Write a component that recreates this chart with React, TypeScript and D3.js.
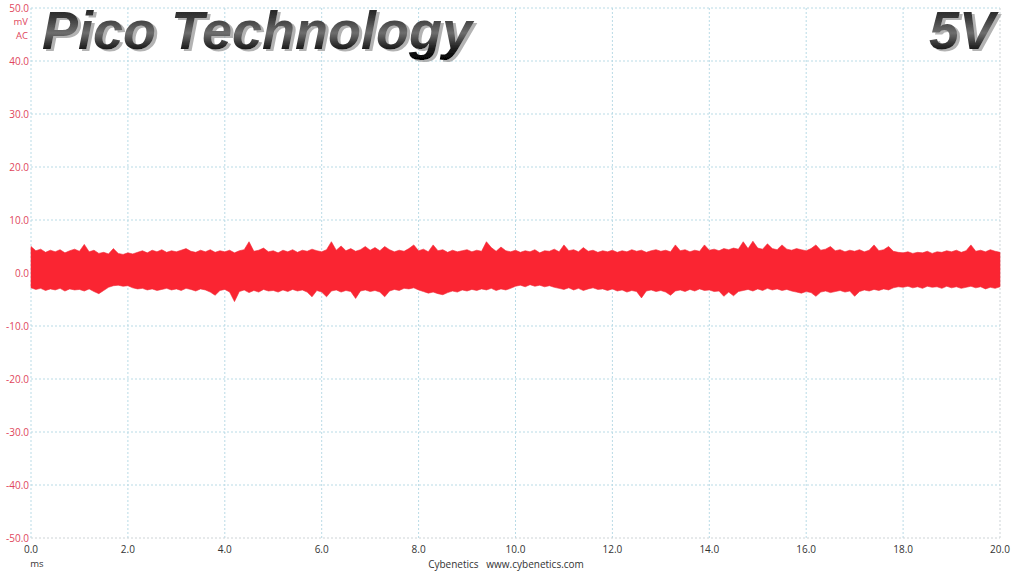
import React from "react";
import * as d3 from "d3";

const W = 1015;
const H = 571;

const TITLE = "Pico Technology";
const RAIL = "5V";
const Y_UNIT = ["mV", "AC"];
const X_UNIT = "ms";
const CREDIT = "Cybenetics   www.cybenetics.com";

const yTicks = [50, 40, 30, 20, 10, 0, -10, -20, -30, -40, -50];
const xTicks = [0, 2, 4, 6, 8, 10, 12, 14, 16, 18, 20];

// time step of the envelope samples (ms)
const STEP_MS = 0.1;

// upper envelope of the ripple (mV), one value every 0.1 ms from 0.0 to 20.0
const upperMv = [
  5.0, 4.2, 4.5, 3.9, 4.3, 4.0, 4.4, 3.8, 4.2, 4.5,
  4.1, 5.4, 4.0, 4.3, 3.7, 3.9, 3.6, 4.6, 3.7, 3.5,
  3.8, 3.6, 3.9, 4.2, 3.8, 4.3, 4.0, 4.4, 3.9, 4.2,
  4.0, 4.3, 4.6, 4.1, 3.9, 4.3, 4.0, 4.4, 3.9, 4.2,
  4.0, 4.3, 3.8, 4.2, 4.4, 5.9, 4.1, 4.3, 4.7, 4.0,
  4.2, 3.8, 4.3, 4.0, 4.4, 3.9, 4.3, 4.1, 4.5, 4.2,
  4.0, 4.4, 5.9, 4.3, 5.1, 4.2, 4.6, 4.1, 4.4, 5.0,
  4.3, 4.8, 4.2, 5.0, 4.4, 4.0, 4.3, 4.1, 4.6, 5.3,
  4.2, 4.5, 4.0, 5.3, 4.2, 4.4, 3.9, 4.3, 4.0, 4.2,
  4.4, 4.0, 4.3, 4.1, 5.9, 4.8, 4.1, 4.9, 4.2, 4.0,
  4.3, 3.9, 4.2, 4.0, 4.4, 3.8, 4.2, 4.1, 4.5, 4.0,
  5.3, 4.2, 4.4, 4.0, 4.8, 4.1, 4.3, 3.9, 4.2, 4.0,
  4.3, 3.9, 4.2, 4.0, 4.4, 4.1, 4.3, 3.9, 4.2, 4.4,
  4.1, 4.3, 4.0, 5.3, 4.2, 4.4, 4.0, 4.3, 4.1, 5.3,
  4.3, 4.5, 4.2, 4.6, 4.4, 4.7, 4.5, 5.9, 4.6, 6.0,
  4.7, 4.5, 5.5, 4.6, 4.4, 5.3, 4.5, 4.3, 4.6, 4.4,
  4.2, 4.6, 5.3, 4.3, 4.5, 5.0, 4.2, 4.4, 4.0, 4.3,
  4.1, 4.4, 4.0, 4.3, 5.3, 4.2, 4.4, 5.0, 4.1, 3.9,
  3.8, 4.0, 3.7, 3.9, 3.8, 4.1, 3.7, 4.0, 3.9, 4.2,
  4.0, 4.3, 3.9, 4.2, 5.3, 4.1, 4.3, 4.0, 4.4, 4.1,
  3.9,
];

// lower envelope of the ripple (mV), same time base
const lowerMv = [
  -2.8, -3.1, -2.9, -3.3, -3.0, -3.2, -2.9, -3.4, -3.0, -3.2,
  -3.1, -3.4, -3.0, -3.5, -3.9, -3.3, -2.7, -2.4, -2.3, -2.5,
  -2.4, -2.8, -3.0, -2.9, -3.2, -3.0, -3.3, -3.1, -2.9, -3.2,
  -3.0, -3.3, -2.9, -3.1, -3.4, -3.0, -3.2, -3.6, -4.2, -3.3,
  -3.1, -3.6, -5.4, -3.5, -3.2, -3.7, -3.3, -3.6, -3.1, -3.4,
  -3.3, -3.6, -3.2, -3.5, -3.1, -3.4, -3.2, -3.6, -4.5, -3.3,
  -3.6, -4.5, -3.4, -3.2, -3.6, -3.3, -3.5, -4.8, -3.4, -3.2,
  -3.5, -3.3, -3.6, -4.5, -3.4, -3.1, -3.3, -2.9, -3.0, -2.8,
  -3.2, -3.5, -3.8, -3.6, -3.9, -4.1, -3.7, -3.4, -3.6, -3.2,
  -3.4, -3.1, -3.3, -3.0, -3.2, -2.9, -3.3, -3.0, -3.2, -2.9,
  -2.5, -2.3, -2.6, -2.2, -2.5, -2.3, -2.6, -2.4, -2.7, -2.9,
  -3.1, -2.8, -3.2, -2.9, -3.3, -3.0, -2.8, -3.1, -3.0, -3.3,
  -3.0, -3.4, -3.2, -3.6, -3.3, -3.5, -4.7, -3.4, -3.2, -3.5,
  -3.3, -3.6, -4.2, -3.4, -3.2, -3.5, -3.1, -3.4, -3.0, -3.3,
  -3.2, -3.5, -3.4, -4.4, -3.6, -4.3, -3.5, -3.3, -3.1, -3.4,
  -3.0, -3.3, -2.9, -3.2, -3.0, -3.3, -3.1, -3.4, -3.6, -3.8,
  -3.5, -3.7, -4.4, -3.6, -3.4, -3.7, -3.5, -3.3, -3.6, -3.4,
  -4.4, -3.5, -3.2, -3.4, -3.1, -3.3, -3.0, -3.2, -2.8, -2.6,
  -2.7, -2.5, -2.8, -2.6, -2.9, -2.5, -2.7, -2.6, -2.9, -2.5,
  -2.8, -2.6, -2.9, -2.7, -2.5, -2.8, -2.6, -3.0, -2.7, -2.9,
  -2.6,
];

const PLOT = { left: 31, right: 1000, top: 8, bottom: 538 };

export default function App() {
  const x = d3.scaleLinear().domain([0, 20]).range([PLOT.left, PLOT.right]);
  const y = d3.scaleLinear().domain([-50, 50]).range([PLOT.bottom, PLOT.top]);

  const rows = upperMv.map((u, i) => ({ t: i * STEP_MS, hi: u, lo: lowerMv[i] }));
  const area = d3
    .area<{ t: number; hi: number; lo: number }>()
    .x((d) => x(d.t))
    .y0((d) => y(d.lo))
    .y1((d) => y(d.hi))
    .curve(d3.curveLinear);

  const gridColor = "#b9dbe6";
  const frameColor = "#cdd3d6";
  const fontUi = "'Open Sans', 'DejaVu Sans', sans-serif";
  const titleFont = "'Liberation Sans', Arial, sans-serif";

  return (
    <svg
      width={W}
      height={H}
      style={{ position: "absolute", left: 0, top: 0, background: "#fff" }}
      xmlns="http://www.w3.org/2000/svg"
    >
      <defs>
        <linearGradient id="metal" x1="0" y1="0" x2="0" y2="1">
          <stop offset="0" stopColor="#111" />
          <stop offset="0.3" stopColor="#3a3a3a" />
          <stop offset="0.55" stopColor="#6e6e6e" />
          <stop offset="0.8" stopColor="#1e1e1e" />
          <stop offset="1" stopColor="#000" />
        </linearGradient>
        <filter id="shadow" x="-5%" y="-20%" width="115%" height="150%">
          <feDropShadow dx="3" dy="2" stdDeviation="0.6" floodColor="#9a9a9a" floodOpacity="0.75" />
        </filter>
      </defs>
      <rect x={0} y={0} width={W} height={H} fill="#fff" />

      {/* grid */}
      {xTicks.map((t) => (
        <line
          key={"gx" + t}
          x1={x(t)}
          x2={x(t)}
          y1={PLOT.top}
          y2={PLOT.bottom}
          stroke={t === 20 ? frameColor : gridColor}
          strokeWidth={1}
          strokeDasharray="2,2"
        />
      ))}
      {yTicks.map((t) => (
        <line
          key={"gy" + t}
          x1={PLOT.left}
          x2={PLOT.right}
          y1={y(t)}
          y2={y(t)}
          stroke={t === -50 ? frameColor : gridColor}
          strokeWidth={1}
          strokeDasharray="2,2"
        />
      ))}

      {/* signal */}
      <path d={area(rows) ?? ""} fill="#fa2532" stroke="#f02836" strokeWidth={0.6} />

      {/* y tick labels */}
      {yTicks.map((t) => (
        <text
          key={"ly" + t}
          x={29}
          y={y(t)}
          dy="0.35em"
          textAnchor="end"
          fontFamily={fontUi}
          fontSize={10}
          fill="#e0465c"
        >
          {t.toFixed(1)}
        </text>
      ))}
      {Y_UNIT.map((u, i) => (
        <text
          key={u}
          x={28}
          y={y(50) + 14 + i * 14}
          dy="0.35em"
          textAnchor="end"
          fontFamily={fontUi}
          fontSize={9.5}
          fill="#e0465c"
        >
          {u}
        </text>
      ))}

      {/* x tick labels */}
      {xTicks.map((t) => (
        <text
          key={"lx" + t}
          x={x(t)}
          y={549}
          dy="0.35em"
          textAnchor="middle"
          fontFamily={fontUi}
          fontSize={10}
          fill="#333"
        >
          {t.toFixed(1)}
        </text>
      ))}
      <text x={37} y={564} dy="0.35em" textAnchor="middle" fontFamily={fontUi} fontSize={9.5} fill="#333">
        {X_UNIT}
      </text>
      <text x={506} y={564} dy="0.35em" textAnchor="middle" fontFamily={fontUi} fontSize={10} fill="#333" style={{ whiteSpace: "pre" }}>
        {CREDIT}
      </text>

      {/* titles */}
      <text x={42} y={49} fontFamily={titleFont} fontWeight="bold" fontStyle="italic" fontSize={54} fill="url(#metal)" filter="url(#shadow)">
        {TITLE}
      </text>
      <text x={995} y={49} textAnchor="end" fontFamily={titleFont} fontWeight="bold" fontStyle="italic" fontSize={54} fill="url(#metal)" filter="url(#shadow)">
        {RAIL}
      </text>
    </svg>
  );
}
